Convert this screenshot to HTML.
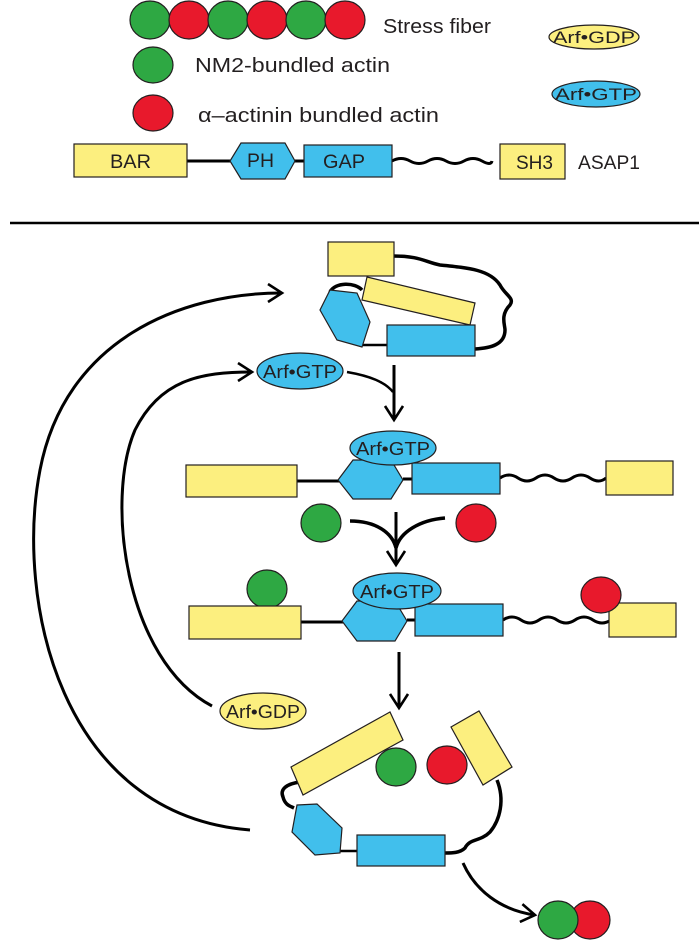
<!DOCTYPE html>
<html><head><meta charset="utf-8"><style>
html,body{margin:0;padding:0;background:#fff}
svg{display:block}
text{font-family:"Liberation Sans",sans-serif;fill:#231f20}
</style></head><body>
<svg width="699" height="947" viewBox="0 0 699 947" xmlns="http://www.w3.org/2000/svg">
<defs>
<marker id="ah" viewBox="0 0 20 20" refX="16" refY="10" markerWidth="20" markerHeight="20" markerUnits="userSpaceOnUse" orient="auto">
<path d="M2,1 L16,10 L2,19" fill="none" stroke="#000" stroke-width="2.6"/>
</marker>
</defs>
<g stroke="#231f20" stroke-width="1.2">
<ellipse cx="150" cy="20" rx="20" ry="19" fill="#2ea843"/>
<ellipse cx="189" cy="20" rx="20" ry="19" fill="#e8192c"/>
<ellipse cx="228" cy="20" rx="20" ry="19" fill="#2ea843"/>
<ellipse cx="267" cy="20" rx="20" ry="19" fill="#e8192c"/>
<ellipse cx="306" cy="20" rx="20" ry="19" fill="#2ea843"/>
<ellipse cx="345" cy="20" rx="20" ry="19" fill="#e8192c"/>
<ellipse cx="153" cy="65" rx="20" ry="18" fill="#2ea843"/>
<ellipse cx="153" cy="113" rx="20" ry="18" fill="#e8192c"/>
<ellipse cx="594" cy="37" rx="45" ry="12" fill="#fcef7f"/>
<ellipse cx="596" cy="94" rx="44" ry="13" fill="#41bfec"/>
</g>
<text x="383" y="33" font-size="20" textLength="108" lengthAdjust="spacingAndGlyphs">Stress fiber</text>
<text x="195" y="72" font-size="20" textLength="195" lengthAdjust="spacingAndGlyphs">NM2-bundled actin</text>
<text x="198" y="122" font-size="20" textLength="241" lengthAdjust="spacingAndGlyphs">α–actinin bundled actin</text>
<text x="553" y="43" font-size="17" textLength="82" lengthAdjust="spacingAndGlyphs">Arf•GDP</text>
<text x="555" y="100" font-size="17" textLength="82" lengthAdjust="spacingAndGlyphs">Arf•GTP</text>

<!-- ASAP1 legend -->
<line x1="187" y1="161" x2="235" y2="161" stroke="#000" stroke-width="3"/>
<line x1="295" y1="161" x2="304" y2="161" stroke="#000" stroke-width="3"/>
<path d="M392,161 q9,-5 18,0 t18,0 t18,0 t18,0 t18,0 t10,0" fill="none" stroke="#000" stroke-width="3"/>
<g stroke="#231f20" stroke-width="1.2">
<rect x="74" y="144" width="113" height="33" fill="#fcef7f"/>
<polygon points="241,143 285,143 295,161 285,179 241,179 230,161" fill="#41bfec"/>
<rect x="304" y="145" width="88" height="32" fill="#41bfec"/>
<rect x="500" y="144" width="65" height="35" fill="#fcef7f"/>
</g>
<text x="110" y="168" font-size="19" textLength="41" lengthAdjust="spacingAndGlyphs">BAR</text>
<text x="247" y="167" font-size="19" textLength="27" lengthAdjust="spacingAndGlyphs">PH</text>
<text x="323" y="168" font-size="19" textLength="42" lengthAdjust="spacingAndGlyphs">GAP</text>
<text x="516" y="169" font-size="19" textLength="37" lengthAdjust="spacingAndGlyphs">SH3</text>
<text x="578" y="169" font-size="19" textLength="62" lengthAdjust="spacingAndGlyphs">ASAP1</text>

<line x1="10" y1="223" x2="699" y2="223" stroke="#000" stroke-width="2.5"/>

<!-- closed conformation -->
<path d="M393,256 C420,256 425,262 440,265 C470,268 490,270 500,285 C505,295 515,298 510,305 C500,315 505,325 505,330 C505,345 490,348 475,349" fill="none" stroke="#000" stroke-width="3.5"/>
<path d="M330,292 C335,282 355,282 362,290" fill="none" stroke="#000" stroke-width="3.5"/>
<line x1="362" y1="345" x2="387" y2="345" stroke="#000" stroke-width="2.5"/>
<g stroke="#231f20" stroke-width="1.2">
<rect x="328" y="242" width="66" height="34" fill="#fcef7f"/>
<polygon points="367,277 475,303 470,325 362,300" fill="#fcef7f"/>
<polygon points="330,290 357,293 370,322 362,347 337,340 320,310" fill="#41bfec"/>
<rect x="387" y="325" width="88" height="31" fill="#41bfec"/>
<ellipse cx="300" cy="371" rx="43" ry="18" fill="#41bfec"/>
</g>
<text x="263" y="378" font-size="18" textLength="74" lengthAdjust="spacingAndGlyphs">Arf•GTP</text>
<path d="M347,372 C370,376 385,382 393,392" fill="none" stroke="#000" stroke-width="2.5"/>
<line x1="394" y1="365" x2="394" y2="420" stroke="#000" stroke-width="3" marker-end="url(#ah)"/>

<!-- open with Arf -->
<line x1="297" y1="481" x2="340" y2="481" stroke="#000" stroke-width="3"/>
<line x1="403" y1="479" x2="412" y2="479" stroke="#000" stroke-width="3"/>
<path d="M500,478 q9,-6 18,0 t18,0 t18,0 t18,0 t18,0 t16,0" fill="none" stroke="#000" stroke-width="3"/>
<g stroke="#231f20" stroke-width="1.2">
<rect x="186" y="465" width="111" height="32" fill="#fcef7f"/>
<polygon points="353,460 391,460 403,480 391,499 353,499 338,480" fill="#41bfec"/>
<rect x="412" y="463" width="88" height="31" fill="#41bfec"/>
<rect x="606" y="461" width="67" height="34" fill="#fcef7f"/>
<ellipse cx="393" cy="448" rx="43" ry="17" fill="#41bfec"/>
<ellipse cx="321" cy="523" rx="20" ry="19" fill="#2ea843"/>
<ellipse cx="476" cy="523" rx="20" ry="19" fill="#e8192c"/>
</g>
<text x="356" y="455" font-size="18" textLength="74" lengthAdjust="spacingAndGlyphs">Arf•GTP</text>
<path d="M350,521 C375,521 392,532 396,548 C400,532 420,520 445,518" fill="none" stroke="#000" stroke-width="3.5"/>
<line x1="396" y1="512" x2="396" y2="565" stroke="#000" stroke-width="3" marker-end="url(#ah)"/>

<!-- bound row -->
<line x1="301" y1="622" x2="345" y2="622" stroke="#000" stroke-width="3"/>
<line x1="407" y1="620" x2="415" y2="620" stroke="#000" stroke-width="3"/>
<path d="M503,620 q9,-6 18,0 t18,0 t18,0 t18,0 t18,0 t18,0" fill="none" stroke="#000" stroke-width="3"/>
<g stroke="#231f20" stroke-width="1.2">
<ellipse cx="267" cy="589" rx="20" ry="19" fill="#2ea843"/>
<rect x="189" y="606" width="112" height="33" fill="#fcef7f"/>
<polygon points="357,601 395,601 407,621 395,641 357,641 342,621" fill="#41bfec"/>
<rect x="415" y="604" width="88" height="32" fill="#41bfec"/>
<rect x="609" y="603" width="67" height="34" fill="#fcef7f"/>
<ellipse cx="601" cy="595" rx="20" ry="18" fill="#e8192c"/>
<ellipse cx="397" cy="591" rx="44" ry="18" fill="#41bfec"/>
</g>
<text x="360" y="598" font-size="18" textLength="74" lengthAdjust="spacingAndGlyphs">Arf•GTP</text>
<line x1="399" y1="652" x2="399" y2="708" stroke="#000" stroke-width="3" marker-end="url(#ah)"/>

<!-- Arf GDP -->
<g stroke="#231f20" stroke-width="1.2">
<ellipse cx="263" cy="711" rx="43" ry="18" fill="#fcef7f"/>
</g>
<text x="226" y="718" font-size="18" textLength="74" lengthAdjust="spacingAndGlyphs">Arf•GDP</text>

<!-- released conformation -->
<path d="M300,782 C285,784 280,790 283,797 C285,805 290,806 294,808" fill="none" stroke="#000" stroke-width="3.5"/>
<path d="M497,780 C505,800 500,820 490,832 C480,842 470,838 465,848 C460,853 452,853 445,853" fill="none" stroke="#000" stroke-width="3.5"/>
<line x1="340" y1="851" x2="357" y2="851" stroke="#000" stroke-width="2.5"/>
<g stroke="#231f20" stroke-width="1.2">
<polygon points="291,767 390,712 403,740 303,795" fill="#fcef7f"/>
<polygon points="451,727 479,711 512,767 483,785" fill="#fcef7f"/>
<ellipse cx="396" cy="767" rx="20" ry="19" fill="#2ea843"/>
<ellipse cx="447" cy="765" rx="20" ry="19" fill="#e8192c"/>
<polygon points="297,805 317,804 342,828 340,853 315,855 292,832" fill="#41bfec"/>
<rect x="357" y="835" width="88" height="31" fill="#41bfec"/>
<ellipse cx="590" cy="920" rx="20" ry="19" fill="#e8192c"/>
<ellipse cx="558" cy="920" rx="20" ry="19" fill="#2ea843"/>
</g>
<path d="M463,863 C475,890 500,910 535,915" fill="none" stroke="#000" stroke-width="3" marker-end="url(#ah)"/>

<!-- cycle arrows -->
<path d="M250,830 C60,815 15,600 40,470 C65,340 180,293 282,293" fill="none" stroke="#000" stroke-width="3" marker-end="url(#ah)"/>
<path d="M212,706 C125,660 105,500 135,430 C160,380 200,372 252,372" fill="none" stroke="#000" stroke-width="3" marker-end="url(#ah)"/>
</svg>
</body></html>
